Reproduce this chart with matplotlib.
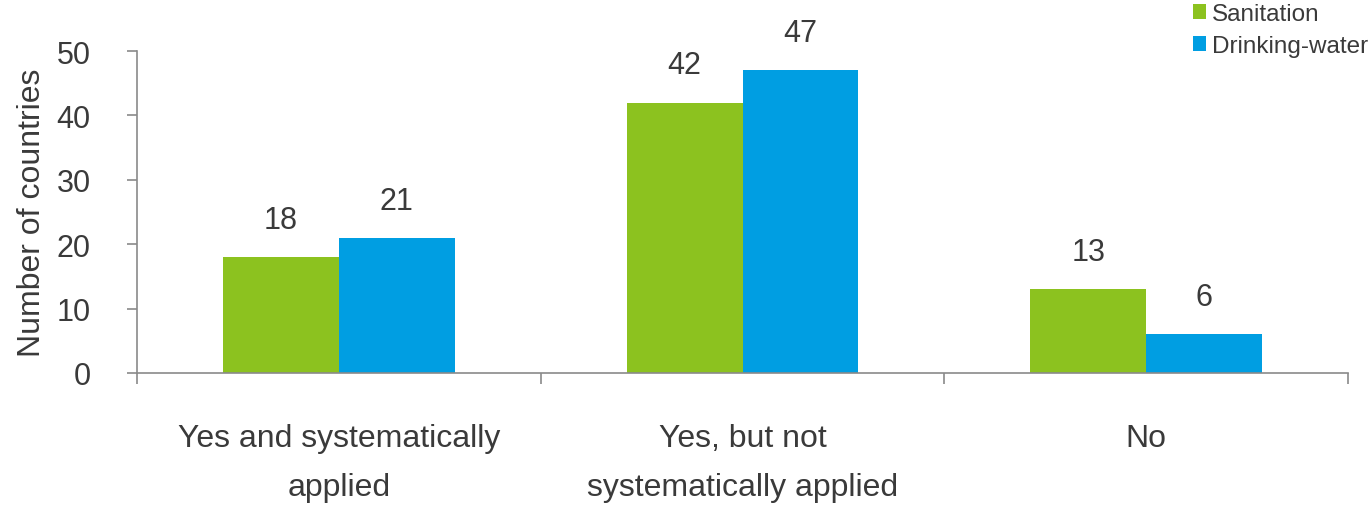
import matplotlib.pyplot as plt
import numpy as np

plt.rcParams['font.family'] = ['Liberation Sans', 'DejaVu Sans']

categories = ['Yes and systematically\napplied', 'Yes, but not\nsystematically applied', 'No']
sanitation = [18, 42, 13]
drinking_water = [21, 47, 6]

green = '#8cc21f'
blue = '#009ee2'
text_col = '#3a3a3a'
axis_col = '#8a8a8a'

fig = plt.figure(figsize=(13.72, 5.06), dpi=100)
ax = fig.add_axes([0.0999, 0.261, 0.8826, 0.636])

x = np.arange(len(categories))
w = 0.287
b1 = ax.bar(x - w / 2, sanitation, w, color=green, label='Sanitation')
b2 = ax.bar(x + w / 2, drinking_water, w, color=blue, label='Drinking-water')

for bars, vals in [(b1, sanitation), (b2, drinking_water)]:
    for bar, v in zip(bars, vals):
        ax.annotate(str(v), (bar.get_x() + bar.get_width() / 2, v),
                    xytext=(0, 16), textcoords='offset points',
                    ha='center', va='bottom', fontsize=22, color=text_col)

ax.set_xlim(-0.5, 2.5)
ax.set_ylim(0, 50)
ax.set_yticks(range(0, 51, 10))
ax.tick_params(axis='y', labelsize=22, colors=text_col, length=7.5, width=1.2,
               color=axis_col, pad=26)

# category boundaries as ticks, labels in the middle
ax.set_xticks([-0.5, 0.5, 1.5, 2.5])
ax.set_xticklabels([])
ax.tick_params(axis='x', length=8, width=1.2, color=axis_col)
ax.set_xticks(x, minor=True)
ax.set_xticklabels(categories, minor=True, fontsize=23, color=text_col,
                   linespacing=1.85)
ax.tick_params(axis='x', which='minor', length=0, pad=36)

for s in ['top', 'right']:
    ax.spines[s].set_visible(False)
ax.spines['left'].set_color(axis_col)
ax.spines['bottom'].set_color(axis_col)
ax.spines['left'].set_linewidth(1.2)
ax.spines['bottom'].set_linewidth(1.2)

ax.set_ylabel('Number of countries', fontsize=23, color=text_col, labelpad=7)

fig.legend(loc='upper left', bbox_to_anchor=(0.855, 1.03), frameon=False,
           fontsize=17.5, handlelength=0.55, handleheight=0.55,
           handletextpad=0.25, labelspacing=0.4, labelcolor=text_col,
           borderpad=0.3)

fig.savefig('out.png', dpi=100)
